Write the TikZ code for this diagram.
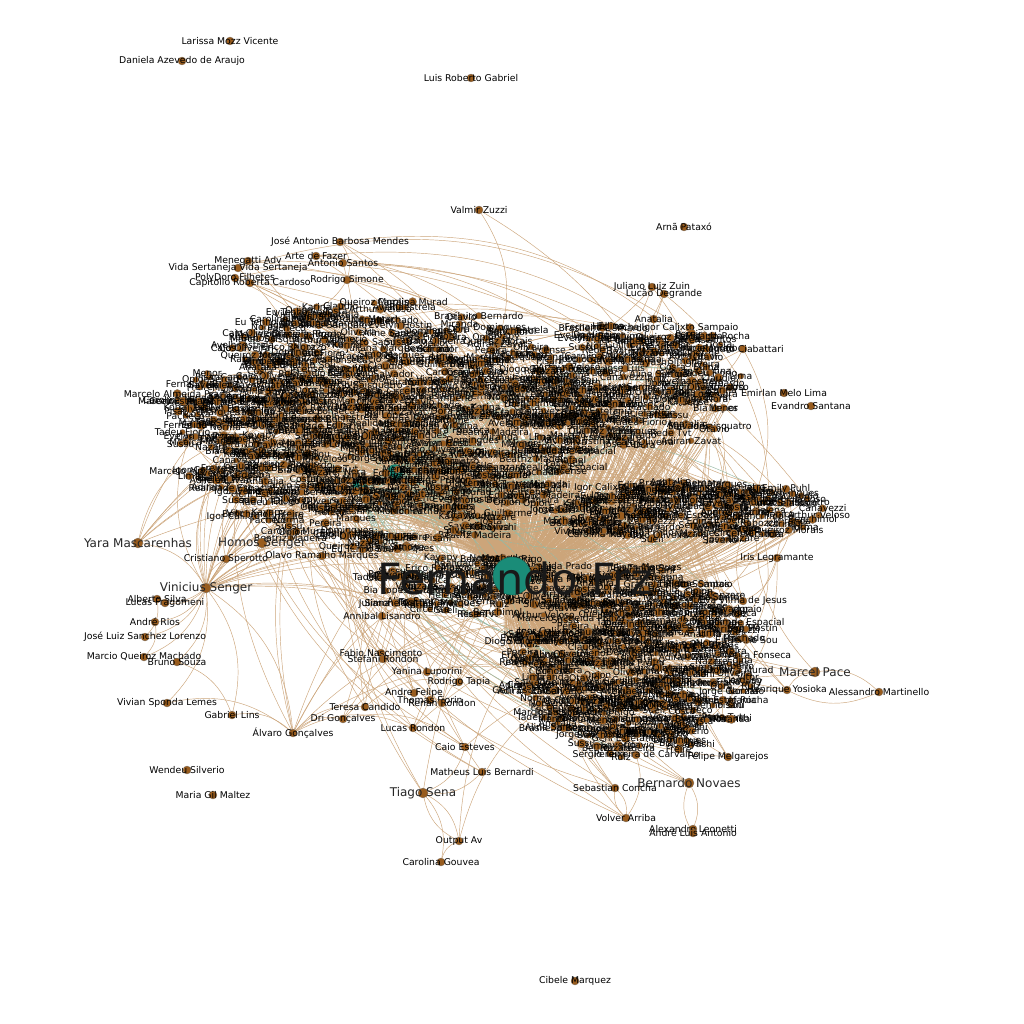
\documentclass[tikz,border=0pt]{standalone}
\usepackage{fontspec}
\setmainfont{DejaVu Sans}
\usepackage{tikz}
\usetikzlibrary{positioning}
\pgfdeclarelayer{paper}
\pgfdeclarelayer{edges}
\pgfsetlayers{paper,edges,main}

\definecolor{nodebrown}{RGB}{152,92,30}
\definecolor{nodering}{RGB}{125,115,105}
\definecolor{edgetan}{RGB}{204,165,122}
\definecolor{hubteal}{RGB}{26,140,120}
\definecolor{edgegreen}{RGB}{150,185,165}

\tikzset{
  namefont/.style={font=\fontsize{9.3}{10}\selectfont, inner sep=0pt, text=black},
  bigname/.style={font=\fontsize{12}{13}\selectfont, inner sep=0pt, text=black!85},
  dot/.style={circle, fill=nodebrown, draw=nodering, line width=0.3pt, inner sep=0pt, minimum size=8pt},
  person/.style={dot, label={[namefont]center:#1}},
  bigperson/.style={dot, minimum size=10pt, label={[bigname]center:#1}},
  hub/.style={circle, fill=hubteal, draw=hubteal!70!black, line width=0.4pt, inner sep=0pt, minimum size=#1},
  tie/.style={draw=edgetan, line width=0.45pt, bend left=25},
  hubtie/.style={draw=edgegreen, line width=0.45pt, bend left=25},
}

\begin{document}
\begin{tikzpicture}[x=1pt, y=-1pt]
  % Frame
  \useasboundingbox (0,0) rectangle (1024,1024);
  \begin{pgfonlayer}{paper}
    \fill[white] (0,0) rectangle (1024,1024);
  \end{pgfonlayer}

  % Hubs
  \coordinate (Fc) at (512,576);
  \node[hub=15pt] (H1) at (395,472) {};
  \node[hub=15pt] (H2) at (360,487) {};

  % Dense core
  \pgfmathsetseed{2024}
  \foreach \nm [count=\i] in {Beatriz Madeira, Marcelo Almeida Prado, Juliana Marques, Pacheco, Igor Calixto Sampaio, Rafael, Adiran Zavat, Vivian Cristina, Erico Rabozzo, Rede Tvt, Carolina Murad, Arthur Veloso, Brasileiro Bernardo, Jorge Ganzaro, Fernando Rocha, Tadeu Fiorio, Freire, Costa, Pereira, Canavezzi, Pisani, Kayapy, Kobayashi, Ruiz, Opion, Aline Santos, Diogo Oliveira Fonseca, Bia Lopes, Cardoso, Jose Luis, Vitor, Marcio Saisquatro, Guilherme, Sueli, Geni Estefania, Saverio, Helena, Graciela Rigo, Sergio, Monica, Norma, Dora, Nora, Sussu, Realidade Espacial, Imperio, Anatalia, Edina, Claudio, Evelyn Hostin, Avelhaestrela, Eu Tenho Sou, Menor, Silva, Circense, Domingues, Salvador, Queiroz Morais, Miranda, Oliveira, Marques, Machado, Tosta, Benchimol, Otavio, Simone, Lima, Caio Oliveira, Karina, Nazare}{
    \xdef\ncore{\i}
    \foreach \k in {1,...,19}{
      \pgfmathtruncatemacro\bl{{0,0,0,0,0,0,0,0,0,1,1,1,1,1,2,2,3,3,4}[\k-1]}
      \pgfmathsetmacro\cx{{380,637,650,690,470}[\bl]}
      \pgfmathsetmacro\cy{{425,662,382,512,585}[\bl]}
      \pgfmathsetmacro\rx{{210,118,92,135,95}[\bl]}
      \pgfmathsetmacro\ry{{125,96,66,30,30}[\bl]}
      \pgfmathsetmacro\ang{360*rnd}
      \pgfmathsetmacro\rr{sqrt(rnd)}
      \pgfmathsetmacro\dsz{5+4*rnd}
      \node[person=\nm, minimum size=\dsz pt] (c\i-\k) at ({\cx+\rx*\rr*cos(\ang)},{\cy+\ry*\rr*sin(\ang)}) {};
    }
  }

  % Outer people
  \node[person=Larissa Mozz Vicente] (larissa) at (230,41) {};
  \node[person=Daniela Azevedo de Araujo] (daniela) at (182,61) {};
  \node[person=Luis Roberto Gabriel] (luisrob) at (471,78) {};
  \node[person=Valmir Zuzzi] (valmir) at (479,210) {};
  \node[person=Arnã Pataxó] (arna) at (684,227) {};
  \node[person=José Antonio Barbosa Mendes] (joseant) at (340,242) {};
  \node[person=Arte de Fazer] (arte) at (316,256) {};
  \node[person=Antonio Santos] (antonio) at (343,263) {};
  \node[person=Menegatti Adv] (menegatti) at (248,261) {};
  \node[person=Vida Sertaneja Vida Sertaneja] (vida) at (238,268) {};
  \node[person=PolyDoro Filhetes] (polydoro) at (235,278) {};
  \node[person=Capitolio Roberta Cardoso] (capitolio) at (250,283) {};
  \node[person=Rodrigo Simone] (rodsimone) at (347,280) {};
  \node[person=Juliano Luiz Zuin] (juliano) at (652,287) {};
  \node[person=Lucão Degrande] (lucao) at (664,294) {};
  \node[person=Renato Ciabattari] (renato) at (743,349) {};
  \node[person=Emirlan Melo Lima] (emirlan) at (784,393) {};
  \node[person=Evandro Santana] (evandro) at (811,406) {};
  \node[person=Emily Puhl] (emily) at (786,489) {};
  \node[person=Iris Legramante] (iris) at (777,558) {};
  \node[person=Eva Vilma de Jesus] (eva) at (743,601) {};
  \node[bigperson=Marcel Pace] (marcel) at (815,672) {};
  \node[person=Henrique Yosioka] (henrique) at (787,690) {};
  \node[person=Alessandro Martinello] (alessandro) at (879,692) {};
  \node[person=Felipe Melgarejos] (felipe) at (728,757) {};
  \node[person=Sergio Teixeira de Carvalho] (sergio) at (636,755) {};
  \node[bigperson=Bernardo Novaes] (novaes) at (689,783) {};
  \node[person=Sebastian Concha] (sebastian) at (615,788) {};
  \node[person=Volver Arriba] (volver) at (626,818) {};
  \node[person=Alexandre Leonetti] (alexandre) at (693,829) {};
  \node[person=André Luis Antonio] (andreluis) at (693,833) {};
  \node[person=Cibele Marquez] (cibele) at (575,981) {};

  \node[bigperson=Yara Mascarenhas] (yara) at (138,543) {};
  \node[bigperson=Homos Senger] (homos) at (262,543) {};
  \node[person=Cristiano Sperotto] (cristiano) at (226,559) {};
  \node[person=Olavo Ramalho Marques] (olavo) at (322,556) {};
  \node[bigperson=Vinicius Senger] (vinicius) at (206,588) {};
  \node[person=Alberto Silva] (alberto) at (157,599) {};
  \node[person=Lucas Fragomeni] (lucasf) at (165,603) {};
  \node[person=André Rios] (andrerios) at (155,622) {};
  \node[person=José Luiz Sanchez Lorenzo] (joseluiz) at (145,637) {};
  \node[person=Marcio Queiroz Machado] (marcio) at (144,657) {};
  \node[person=Bruno Souza] (bruno) at (177,662) {};
  \node[person=Vivian Sponda Lemes] (vivian) at (167,703) {};
  \node[person=Gabriel Lins] (gabriel) at (232,715) {};
  \node[person=Álvaro Gonçalves] (alvaro) at (293,733) {};
  \node[person=Wendeu Silverio] (wendeu) at (187,770) {};
  \node[person=Maria Gil Maltez] (mariagil) at (213,795) {};

  \node[person=Simone Gatti] (simone) at (395,603) {};
  \node[person=Annibal Lisandro] (annibal) at (382,616) {};
  \node[person=Fabio Nascimento] (fabio) at (381,653) {};
  \node[person=Stefani Rondon] (stefani) at (383,659) {};
  \node[person=Yanina Luporini] (yanina) at (427,672) {};
  \node[person=Rodrigo Tapia] (rodtapia) at (459,682) {};
  \node[person=Andre Felipe] (andrefel) at (414,693) {};
  \node[person=Thomas Fiorin] (thomas) at (430,700) {};
  \node[person=Renan Rondon] (renan) at (442,703) {};
  \node[person=Teresa Candido] (teresa) at (365,707) {};
  \node[person=Dri Gonçalves] (dri) at (343,719) {};
  \node[person=Lucas Rondon] (lucasr) at (413,728) {};
  \node[person=Caio Esteves] (caio) at (465,747) {};
  \node[person=Matheus Luis Bernardi] (matheus) at (482,772) {};
  \node[bigperson=Tiago Sena] (tiago) at (423,793) {};
  \node[person=Output Av] (output) at (459,841) {};
  \node[person=Carolina Gouvea] (carolina) at (441,862) {};

  % Ties, all behind the people
  \begin{pgfonlayer}{edges}
    \foreach \i in {1,...,\ncore}{
      \foreach \k in {1,2,3,5,6,7,9,10,11,12,14,15,16,17,18}{
        \draw[tie] (c\i-\k) to (Fc);
      }
    }
    \foreach \j in {1,...,250}{
      \pgfmathtruncatemacro\ia{random(1,\ncore)}
      \pgfmathtruncatemacro\ka{random(1,19)}
      \pgfmathtruncatemacro\ib{random(1,\ncore)}
      \pgfmathtruncatemacro\kb{random(1,19)}
      \draw[tie] (c\ia-\ka) to (c\ib-\kb);
    }
    \foreach \j in {1,...,40}{
      \pgfmathtruncatemacro\ia{random(1,\ncore)}
      \pgfmathtruncatemacro\ka{random(1,19)}
      \draw[hubtie] (H1) to (c\ia-\ka);
      \draw[hubtie] (c\ia-\ka) to (H2);
    }
    \foreach \a/\b in {vinicius/alberto, vinicius/lucasf, vinicius/andrerios, vinicius/joseluiz, vinicius/marcio, vinicius/bruno, vinicius/vivian, vinicius/gabriel, vinicius/alvaro, vinicius/cristiano, yara/vinicius, homos/vinicius, alberto/joseluiz, andrerios/marcio, bruno/gabriel, vivian/alvaro, gabriel/alvaro, alvaro/dri, alvaro/teresa, alvaro/lucasr, dri/caio, teresa/rodtapia, fabio/andrefel, yanina/lucasr, tiago/output, output/tiago, tiago/carolina, carolina/output, matheus/tiago, caio/tiago, sebastian/volver, volver/sebastian, sergio/volver, novaes/alexandre, andreluis/novaes, marcel/alessandro, alessandro/henrique, henrique/marcel, iris/eva, emily/iris, arte/antonio, menegatti/vida, joseant/rodsimone, juliano/lucao}
      \draw[tie] (\a) to (\b);
    \foreach \p/\n in {vinicius/30, yara/8, homos/8, cristiano/6, olavo/4, valmir/2, iris/8, eva/6, emily/6, renato/3, juliano/3, lucao/3, alvaro/8, teresa/3, dri/3, lucasr/3, caio/4, matheus/3, tiago/3, felipe/4, novaes/4, volver/3, sebastian/5, sergio/5, marcel/4, henrique/4, simone/4, annibal/4, fabio/3, stefani/3, yanina/3, rodtapia/3, andrefel/3, renan/3, output/2, joseant/3, arte/3, antonio/3, menegatti/3, vida/3, polydoro/3, capitolio/3, rodsimone/3}{
      \foreach \j in {1,...,\n}{
        \pgfmathtruncatemacro\ia{random(1,\ncore)}
        \pgfmathtruncatemacro\ka{random(1,19)}
        \draw[tie] (\p) to (c\ia-\ka);
      }
    }
  \end{pgfonlayer}

  % Main hub on top
  \node[hub=38pt] (F) at (Fc) {};
  \node[font=\fontsize{43}{45}\selectfont, inner sep=0pt, text=black!90] (Fname) at (515,578) {Fernando Frz};
\end{tikzpicture}
\end{document}
